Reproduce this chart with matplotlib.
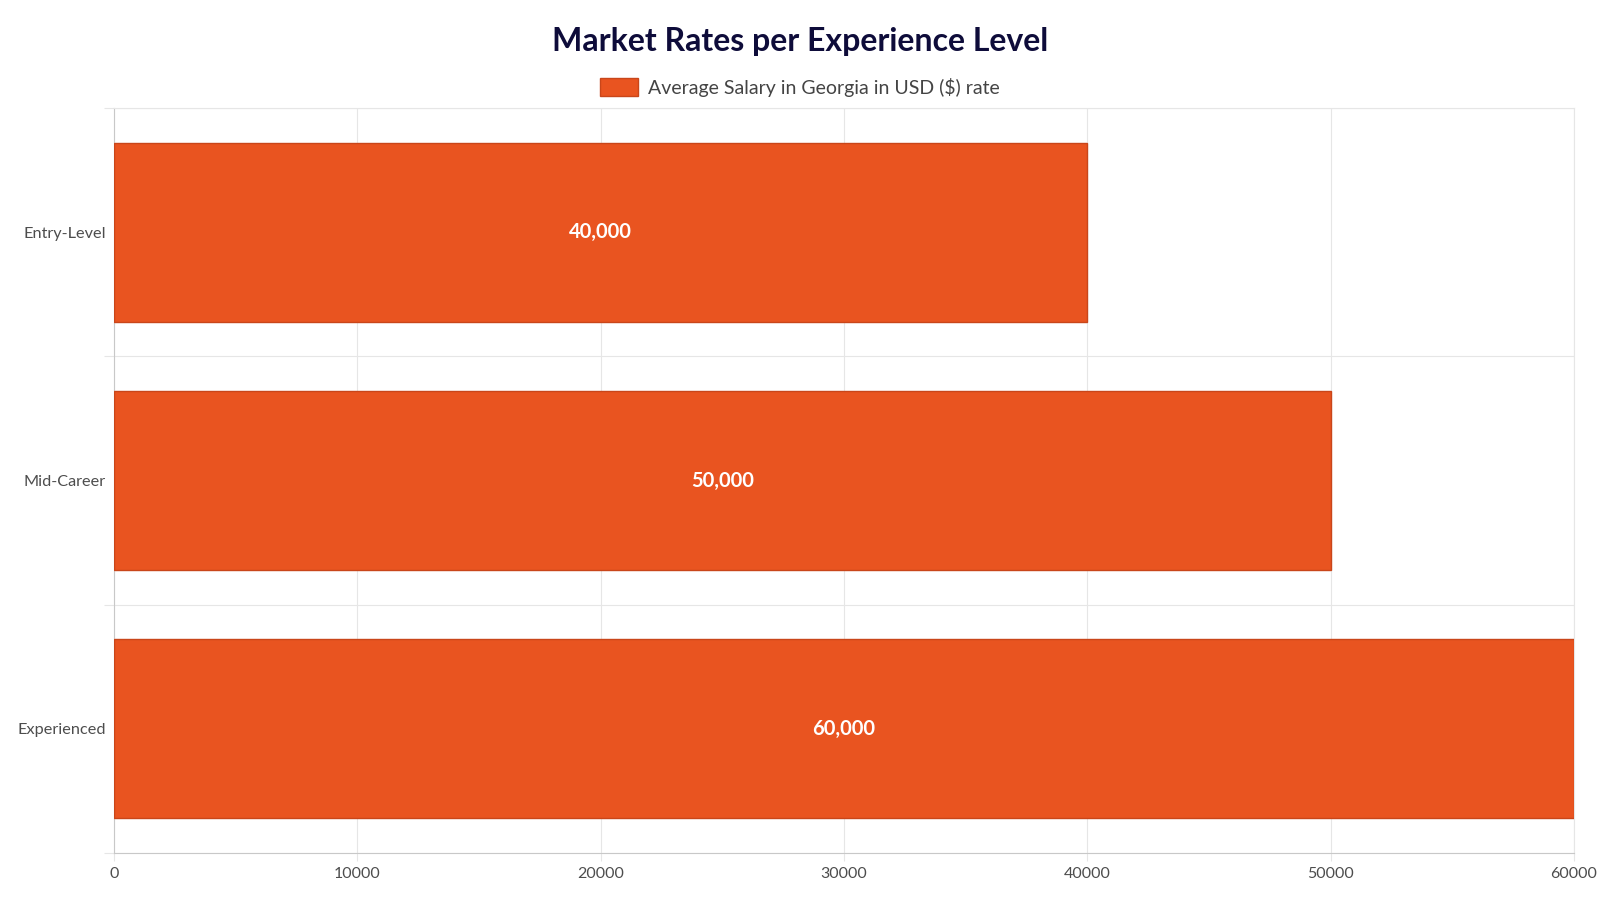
import matplotlib.pyplot as plt
from matplotlib.ticker import FixedLocator

# data
levels = ['Entry-Level', 'Mid-Career', 'Experienced']
salaries = [40000, 50000, 60000]
value_labels = ['40,000', '50,000', '60,000']
x_ticks = [0, 10000, 20000, 30000, 40000, 50000, 60000]
series_name = 'Average Salary in Georgia in USD ($) rate'

plt.rcParams['font.family'] = ['Lato', 'DejaVu Sans']

bar_color = '#E95420'
edge_color = '#C9461A'
grid_color = '#E6E6E6'
axis_color = '#C8C8C8'
text_color = '#4D4D4D'

fig = plt.figure(figsize=(16, 9), dpi=100)
ax = fig.add_axes([0.07125, 0.0522, 0.98375 - 0.07125, 0.88 - 0.0522])

pos = list(range(len(levels)))
bars = ax.barh(pos, salaries, height=0.72, color=bar_color,
               edgecolor=edge_color, linewidth=1, label=series_name, zorder=3)

for b, lab in zip(bars, value_labels):
    ax.text(b.get_width() / 2, b.get_y() + b.get_height() / 2, lab,
            ha='center', va='center', color='white', fontsize=14.5,
            fontweight='bold', zorder=4)

ax.set_xlim(0, 60000)
ax.set_ylim(len(levels) - 0.5, -0.5)

ax.set_xticks(x_ticks)
ax.set_xticklabels([str(t) for t in x_ticks])
ax.set_yticks(pos)
ax.set_yticklabels(levels)
ax.yaxis.set_minor_locator(FixedLocator([p - 0.5 for p in range(len(levels) + 1)]))

ax.tick_params(axis='y', which='major', length=0, pad=6.0, labelsize=11.7, labelcolor=text_color)
ax.tick_params(axis='y', which='minor', length=7.2, width=0.8, color=grid_color)
ax.tick_params(axis='x', which='major', length=5.8, width=0.8, color=grid_color,
               pad=4, labelsize=11.5, labelcolor=text_color)

ax.grid(True, axis='x', which='major', color=grid_color, linewidth=0.8, zorder=0)
ax.grid(True, axis='y', which='minor', color=grid_color, linewidth=0.8, zorder=0)
ax.set_axisbelow(True)

for side in ['top', 'right']:
    ax.spines[side].set_color(grid_color)
    ax.spines[side].set_linewidth(0.8)
for side in ['left', 'bottom']:
    ax.spines[side].set_color(axis_color)
    ax.spines[side].set_linewidth(0.8)

fig.suptitle('Market Rates per Experience Level', x=0.5, y=0.954, va='center',
             fontsize=23, fontweight='bold', color='#0E0C3A')

fig.legend(loc='center', bbox_to_anchor=(0.5, 0.903), frameon=False, fontsize=14,
           handlelength=1.95, handleheight=1.05, handletextpad=0.5,
           labelcolor='#444444')

fig.savefig('out.png', dpi=100)
